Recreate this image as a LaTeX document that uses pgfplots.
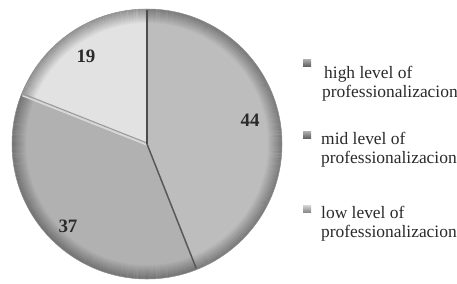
\documentclass[border=0pt]{standalone}
\usepackage{pgfplots}
\pgfplotsset{compat=1.18}
\usepackage{pgfplotstable}
\usepackage{fontspec}
\setmainfont{Liberation Serif}

\pgfplotstableread{
label value
high 44
mid 37
low 19
}\piedata

\definecolor{shigh}{HTML}{BDBDBD}
\definecolor{smid}{HTML}{B1B1B1}
\definecolor{slow}{HTML}{E2E2E2}
\definecolor{txt}{HTML}{2A2A2A}

\begin{document}
\begin{tikzpicture}
\pgfplotstablegetelem{0}{value}\of\piedata \let\va\pgfplotsretval
\pgfplotstablegetelem{1}{value}\of\piedata \let\vb\pgfplotsretval
\pgfplotstablegetelem{2}{value}\of\piedata \let\vc\pgfplotsretval
\pgfmathsetmacro{\aA}{90}
\pgfmathsetmacro{\aB}{90-3.6*\va}
\pgfmathsetmacro{\aC}{\aB-3.6*\vb}
\pgfmathsetmacro{\aD}{\aC-3.6*\vc}
\begin{axis}[x=1bp,y=1bp,xmin=0,xmax=457,ymin=0,ymax=284,hide axis,clip=false]
% slices
\fill[shigh] (axis cs:147,140) -- ++(\aA:135bp) arc[start angle=\aA, end angle=\aB, radius=135bp] -- cycle;
\fill[smid] (axis cs:147,140) -- ++(\aB:135bp) arc[start angle=\aB, end angle=\aC, radius=135bp] -- cycle;
\fill[slow] (axis cs:147,140) -- ++(\aC:135bp) arc[start angle=\aC, end angle=\aD, radius=135bp] -- cycle;
% rim shading
\pgfplotsinvokeforeach{0,...,13}{
  \draw[black, opacity={0.022*(14-#1)}, line width=1.05bp] (axis cs:147,140) circle[radius={(134.5-#1)*1bp}];
}
\draw[black!45, line width=0.5bp] (axis cs:147,140) circle[radius=135bp];
% separators
\draw[white!85!black, line width=1.4bp] (axis cs:147,139) -- ++(\aC:134bp);
\draw[black!40, line width=1.1bp] (axis cs:147,141) -- ++(\aC:134bp);
\draw[black!70, line width=1.5bp] (axis cs:147,140) -- ++(\aA:134bp);
\draw[black!65, line width=1.5bp] (axis cs:147,140) -- ++(\aB:134bp);
% value labels
\begin{scope}[every node/.style={text=txt, font=\bfseries\fontsize{19}{21}\selectfont}]
\node at (axis cs:250,164) {\va};
\node at (axis cs:68,58) {\vb};
\node at (axis cs:86,228) {\vc};
\end{scope}
% legend
\shade[top color=black!35, bottom color=black!65] (axis cs:303,217) rectangle (axis cs:311,224);
\shade[top color=black!35, bottom color=black!65] (axis cs:303,145) rectangle (axis cs:311,152);
\shade[top color=black!20, bottom color=black!50] (axis cs:303,71) rectangle (axis cs:311,78);
\begin{scope}[every node/.style={anchor=base west, inner sep=0pt, text=txt, font=\fontsize{17.5}{19}\selectfont}]
\node at (axis cs:324,206) {high level of};
\node at (axis cs:322,187) {professionalizacion};
\node at (axis cs:321,140) {mid level of};
\node at (axis cs:321,121) {professionalizacion};
\node at (axis cs:321,66) {low level of};
\node at (axis cs:321,47) {professionalizacion};
\end{scope}
\end{axis}
\pgfresetboundingbox
\useasboundingbox (0,0) rectangle (457bp,284bp);
\end{tikzpicture}
\end{document}
